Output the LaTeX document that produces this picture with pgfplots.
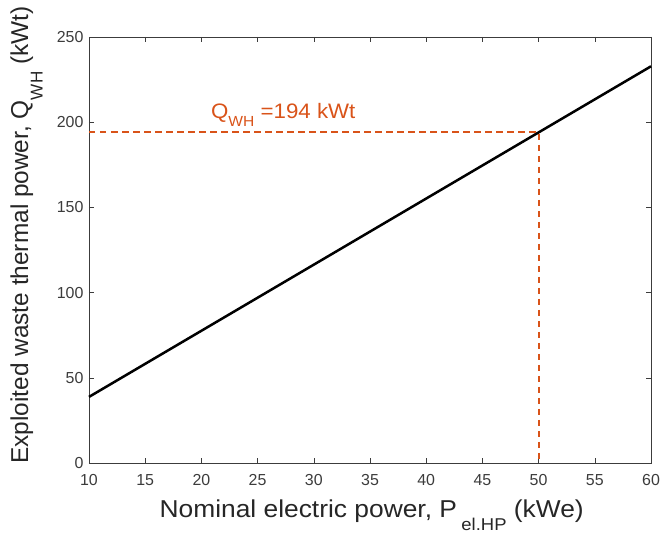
\documentclass[border=0pt]{standalone}
\usepackage{fontspec}
\setmainfont{Liberation Sans}
\usepackage{graphicx}
\usepackage{pgfplots}
\pgfplotsset{compat=1.18}
\definecolor{mlorange}{RGB}{217,83,25}
\definecolor{axgray}{RGB}{60,60,60}
\newcommand{\sub}[2][0.55em]{\raisebox{-#1}{\scalebox{0.7}{#2}}}
\begin{document}
\begin{tikzpicture}[x=1bp,y=1bp]
\begin{axis}[
  scale only axis,
  width=562bp, height=426bp,
  xmin=10, xmax=60, ymin=0, ymax=250,
  xtick={10,15,...,60}, ytick={0,50,...,250},
  tick align=inside,
  tick style={axgray, line width=0.6pt},
  major tick length=5bp,
  axis line style={axgray, line width=0.8pt},
  ticklabel style={font=\fontsize{16}{18}\selectfont, text=axgray},
  xticklabel style={yshift=-8bp},
  yticklabel style={xshift=-2bp},
  /pgf/number format/assume math mode=true,
  xlabel={\scalebox{1.08}[1]{Nominal electric power, P\,\sub[0.5em]{el.HP} (kWe)}},
  ylabel={Exploited waste thermal power, Q\sub[0.6em]{WH} (kWt)},
  xlabel style={font=\fontsize{24.5}{26}\selectfont, text=black!85, at={(axis description cs:0.503,-0.129)}, anchor=base},
  ylabel style={font=\fontsize{24.5}{26}\selectfont, text=black!85, at={(axis description cs:-0.1085,0.535)}, anchor=base},
  clip=false,
]
\addplot[black, line width=2.5bp] coordinates {(10,38.8) (60,232.8)};
\addplot[mlorange, line width=2bp, dash pattern=on 6.5bp off 4.5bp] coordinates {(10,194) (50,194) (50,0)};
\node[anchor=base west, text=mlorange, font=\fontsize{21}{22}\selectfont, inner sep=0pt] at (axis cs:20.85,202.3) {\scalebox{1.065}[1]{Q\sub[0.4em]{WH} =194 kWt}};
\coordinate (sw) at (rel axis cs:0,0);
\coordinate (ne) at (rel axis cs:1,1);
\end{axis}
\pgfresetboundingbox
\path ([shift={(-89bp,-71bp)}]sw) rectangle ([shift={(9bp,37bp)}]ne);
\end{tikzpicture}
\end{document}
